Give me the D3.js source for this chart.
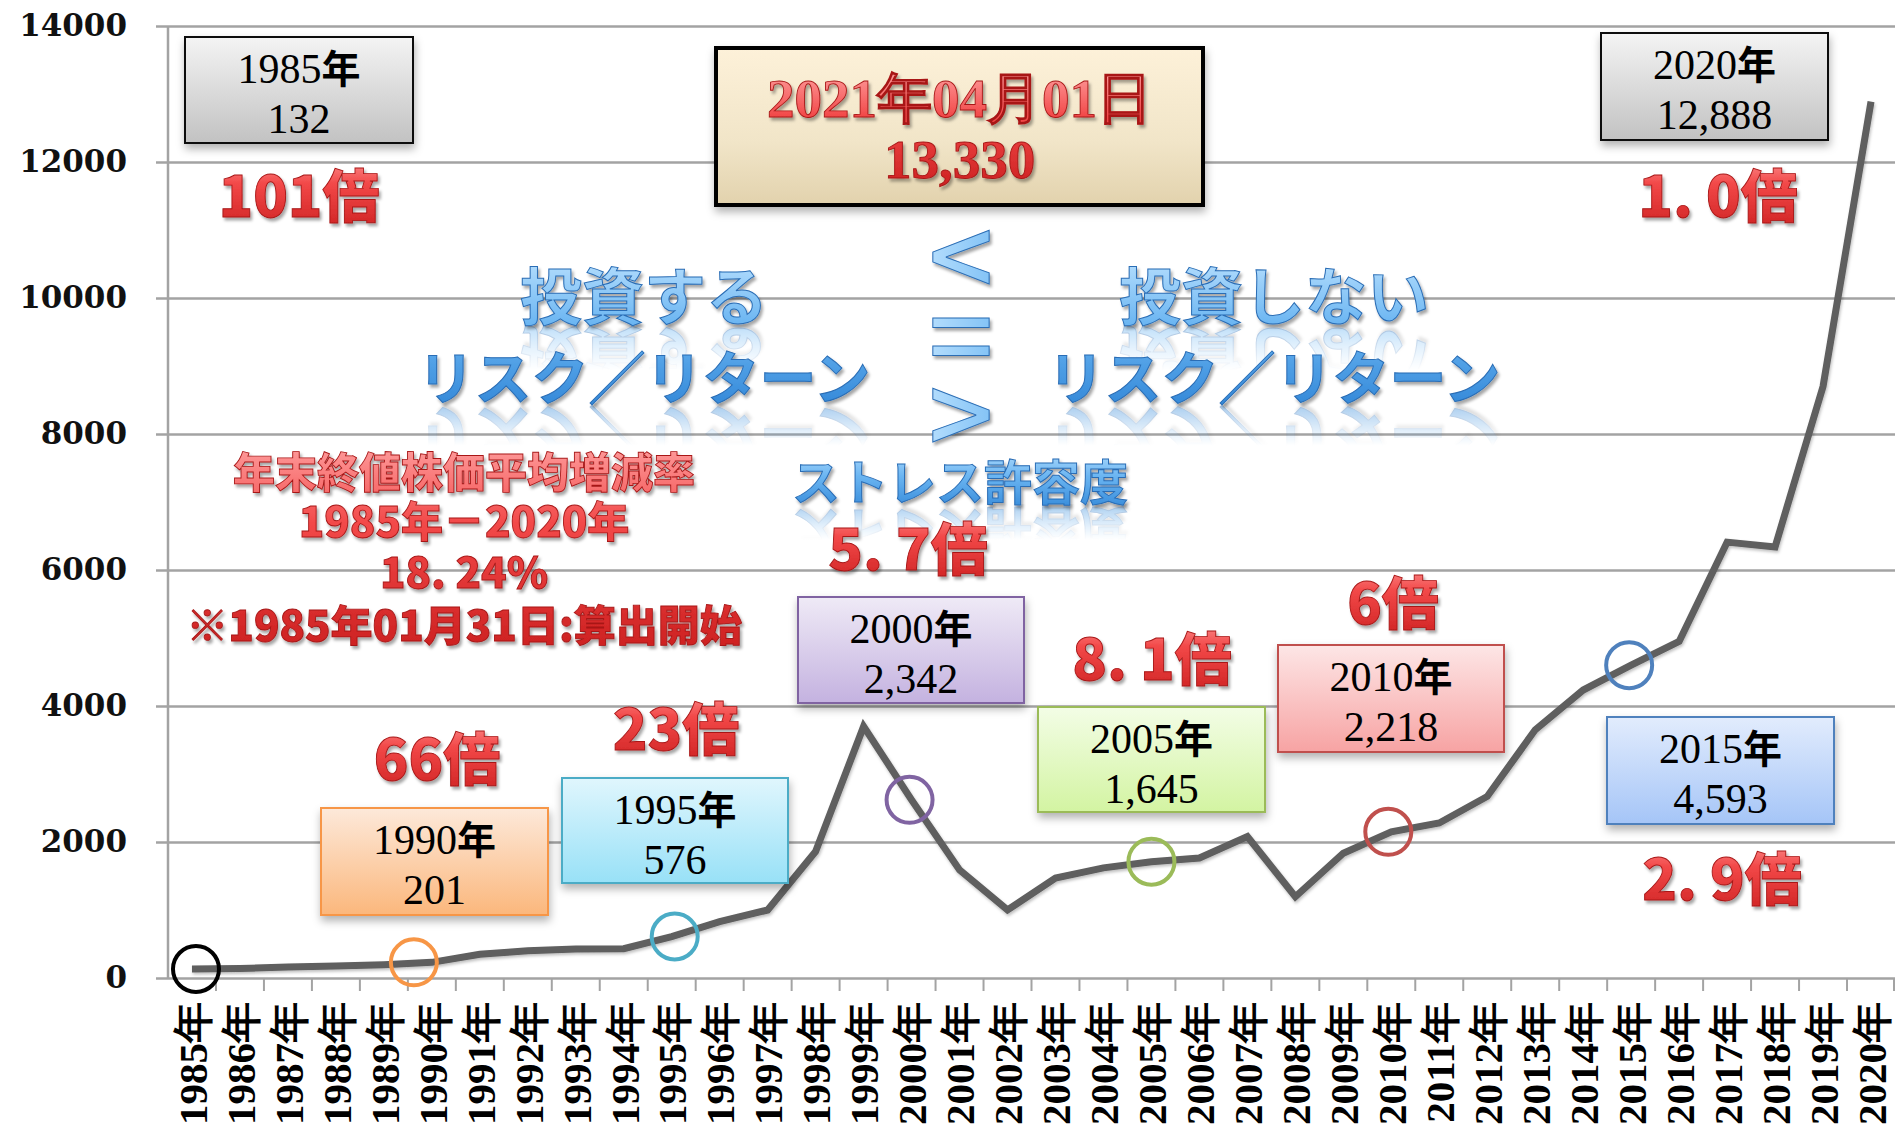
<!DOCTYPE html>
<html>
<head>
<meta charset="utf-8">
<script src="https://cdn.jsdelivr.net/npm/d3@7"></script>
<style>
  html, body { margin: 0; padding: 0; background: #fff; overflow: hidden; }
  svg { display: block; }
</style>
</head>
<body>
<div id="chart"></div>
<script>
// ---- data ----
const categories = [
  "1985年", "1986年", "1987年", "1988年", "1989年", "1990年", "1991年", "1992年", "1993年",
  "1994年", "1995年", "1996年", "1997年", "1998年", "1999年", "2000年", "2001年", "2002年",
  "2003年", "2004年", "2005年", "2006年", "2007年", "2008年", "2009年", "2010年", "2011年",
  "2012年", "2013年", "2014年", "2015年", "2016年", "2017年", "2018年", "2019年", "2020年"
];
const values = [
  132, 140, 160, 175, 195, 230, 350, 400, 425,
  430, 610, 830, 1000, 1860, 3700, 2620, 1590, 1000,
  1470, 1620, 1710, 1765, 2080, 1195, 1835, 2150, 2280,
  2670, 3650, 4235, 4600, 4950, 6410, 6340, 8700, 12888
];
const yTicks = [0, 2000, 4000, 6000, 8000, 10000, 12000, 14000];

// callout boxes
const calloutYears = ["1985年", "1990年", "1995年", "2000年", "2005年", "2010年", "2015年", "2020年"];
const calloutValues = ["132", "201", "576", "2,342", "1,645", "2,218", "4,593", "12,888"];
// circled points
const markedYears = ["1985年", "1990年", "1995年", "2000年", "2005年", "2010年", "2015年"];
// red multiplier labels
const multipliers = ["101倍", "66倍", "23倍", "5. 7倍", "8. 1倍", "6倍", "2. 9倍", "1. 0倍"];
const headlineLines = ["2021年04月01日", "13,330"];
const rateLines = ["年末終値株価平均増減率", "1985年－2020年", "18. 24%", "※1985年01月31日:算出開始"];
const investLines = ["投資する", "リスク／リターン"];
const noInvestLines = ["投資しない", "リスク／リターン"];
const compareMarks = "<=>";
const stressLabel = "ストレス許容度";

// ---- layout ----
const width = 1895, height = 1128;
const plot = { left: 168, right: 1895, top: 26, bottom: 978 };
const serif = "'Liberation Serif', 'Times New Roman', serif";
const gothic = "'Noto Sans CJK JP', 'Noto Sans', sans-serif";

const boxLayout = [
  { x: 185, y: 37, w: 228, h: 106, c0: "#f4f4f4", c1: "#c2c2c2", stroke: "#111" },
  { x: 321, y: 808, w: 227, h: 107, c0: "#fde9da", c1: "#fbb77c", stroke: "#f79646" },
  { x: 562, y: 778, w: 226, h: 105, c0: "#e0f6fd", c1: "#98e1f7", stroke: "#4bacc6" },
  { x: 798, y: 597, w: 226, h: 106, c0: "#efeaf6", c1: "#c4b2e0", stroke: "#8064a2" },
  { x: 1038, y: 707, w: 227, h: 105, c0: "#f3fde6", c1: "#d3f4a2", stroke: "#9bbb59" },
  { x: 1278, y: 645, w: 226, h: 107, c0: "#fde6e6", c1: "#f7a3a3", stroke: "#c0504d" },
  { x: 1607, y: 717, w: 227, h: 107, c0: "#e2ecfd", c1: "#a5c5f7", stroke: "#4f81bd" },
  { x: 1601, y: 33, w: 227, h: 107, c0: "#f4f4f4", c1: "#c2c2c2", stroke: "#111" }
];
const circleStyle = [
  { color: "#000000", dx: 4 },
  { color: "#f79646", dx: -18 },
  { color: "#4bacc6", dx: 3 },
  { color: "#8064a2", dx: -2 },
  { color: "#9bbb59", dx: 0 },
  { color: "#c0504d", dx: -3 },
  { color: "#4f81bd", dx: -2 }
];
const multiplierPos = [
  { x: 299, y: 217 }, { x: 437, y: 780 }, { x: 676, y: 750 }, { x: 908, y: 570 },
  { x: 1152, y: 680 }, { x: 1393, y: 624 }, { x: 1722, y: 900 }, { x: 1718, y: 217 }
];

const svg = d3.select("#chart").append("svg")
  .attr("width", width)
  .attr("height", height)
  .attr("viewBox", [0, 0, width, height]);

svg.append("rect").attr("width", width).attr("height", height).attr("fill", "#fff");

// defs: gradients + filters
const defs = svg.append("defs");

function vGradient(id, stops) {
  const g = defs.append("linearGradient").attr("id", id)
    .attr("x1", 0).attr("y1", 0).attr("x2", 0).attr("y2", 1);
  stops.forEach(s => g.append("stop").attr("offset", s[0]).attr("stop-color", s[1])
    .attr("stop-opacity", s[2] === undefined ? 1 : s[2]));
}
vGradient("redText", [["0%", "#ffa3a3"], ["40%", "#f24848"], ["100%", "#cc2020"]]);
vGradient("blueText", [["0%", "#c2e5ff"], ["45%", "#6cb6f2"], ["100%", "#2e84d6"]]);
vGradient("reflFade", [["0%", "#fff", 0.45], ["100%", "#fff", 0]]);
vGradient("headBox", [["0%", "#fdf1d9"], ["60%", "#f1e5c8"], ["100%", "#e2d2ad"]]);
boxLayout.forEach((b, i) => vGradient("box" + i, [["0%", b.c0], ["100%", b.c1]]));

const fText = defs.append("filter").attr("id", "txtShadow")
  .attr("x", "-10%").attr("y", "-20%").attr("width", "130%").attr("height", "160%");
fText.append("feDropShadow").attr("dx", 2).attr("dy", 3).attr("stdDeviation", 1.8)
  .attr("flood-color", "#000").attr("flood-opacity", 0.35);

const fBox = defs.append("filter").attr("id", "boxShadow")
  .attr("x", "-10%").attr("y", "-10%").attr("width", "130%").attr("height", "140%");
fBox.append("feDropShadow").attr("dx", 1).attr("dy", 5).attr("stdDeviation", 4)
  .attr("flood-color", "#000").attr("flood-opacity", 0.3);

const fLine = defs.append("filter").attr("id", "lineShadow")
  .attr("x", "-5%").attr("y", "-5%").attr("width", "110%").attr("height", "110%");
fLine.append("feDropShadow").attr("dx", 1).attr("dy", 2).attr("stdDeviation", 1.5)
  .attr("flood-color", "#000").attr("flood-opacity", 0.25);

// scales
const x = d3.scaleBand().domain(categories).range([plot.left, plot.right]).padding(0);
const y = d3.scaleLinear().domain([0, 14000]).range([plot.bottom, plot.top]);
const cx = c => x(c) + x.bandwidth() / 2;
const valueOf = c => values[categories.indexOf(c)];

// y axis with gridlines
const yAxis = svg.append("g")
  .attr("transform", "translate(156,0)")
  .call(d3.axisLeft(y).tickValues(yTicks).tickSize(-(plot.right - 156)).tickPadding(29)
    .tickFormat(d3.format("d")));
yAxis.select(".domain").remove();
yAxis.selectAll(".tick line").attr("stroke", "#a3a3a3").attr("stroke-width", 2.5);
yAxis.selectAll(".tick text")
  .attr("font-family", "'DejaVu Serif', serif")
  .attr("font-weight", "bold")
  .attr("font-size", 31)
  .attr("fill", "#111");

// vertical axis line
svg.append("line")
  .attr("x1", plot.left).attr("x2", plot.left)
  .attr("y1", plot.top).attr("y2", plot.bottom)
  .attr("stroke", "#a3a3a3").attr("stroke-width", 2.5);

// x axis: category ticks between bands
svg.append("g").selectAll("line")
  .data(categories.slice(1).concat(["end"]))
  .join("line")
  .attr("x1", d => d === "end" ? plot.right - 1 : x(d))
  .attr("x2", d => d === "end" ? plot.right - 1 : x(d))
  .attr("y1", plot.bottom).attr("y2", plot.bottom + 13)
  .attr("stroke", "#a3a3a3").attr("stroke-width", 2);

const xAxis = svg.append("g")
  .attr("transform", `translate(0,${plot.bottom})`)
  .call(d3.axisBottom(x).tickSize(0));
xAxis.select(".domain").remove();
xAxis.selectAll(".tick text")
  .attr("transform", "rotate(-90)")
  .attr("x", -24).attr("y", 0).attr("dy", "0.36em")
  .style("text-anchor", "end")
  .attr("font-family", serif)
  .attr("font-weight", "bold")
  .attr("font-size", 41)
  .attr("fill", "#000");

// line
const line = d3.line().x(d => cx(d)).y(d => y(valueOf(d)));
svg.append("path")
  .datum(categories)
  .attr("d", line)
  .attr("fill", "none")
  .attr("stroke", "#5e5e5e")
  .attr("stroke-width", 7)
  .attr("stroke-linejoin", "miter")
  .attr("filter", "url(#lineShadow)");

// circled points
svg.append("g").selectAll("circle")
  .data(markedYears)
  .join("circle")
  .attr("cx", (d, i) => cx(d) + circleStyle[i].dx)
  .attr("cy", d => y(valueOf(d)))
  .attr("r", 23)
  .attr("fill", "none")
  .attr("stroke", (d, i) => circleStyle[i].color)
  .attr("stroke-width", 4);

// red 3D text helper
function redText(sel) {
  return sel.attr("fill", "url(#redText)")
    .attr("stroke", "#a81818").attr("stroke-width", 0.9)
    .attr("filter", "url(#txtShadow)");
}

// multi-line text as one <text> with one tspan per line
function stackedText(parent, lines, centerX, baselines) {
  const t = parent.append("text").attr("text-anchor", "middle");
  t.selectAll("tspan").data(lines).join("tspan")
    .attr("x", centerX)
    .attr("y", (d, i) => baselines[i])
    .text(d => d);
  return t;
}

// blue text; the reflection reuses the same text node through <use>
let blueId = 0;
function blueText(lines, centerX, baselines, sizes) {
  const g = svg.append("g");
  const id = "blue" + (blueId++);
  const t = g.append("text").attr("id", id).attr("text-anchor", "middle")
    .attr("font-family", gothic).attr("font-weight", 700)
    .attr("fill", "url(#blueText)")
    .attr("stroke", "#2a6db5").attr("stroke-width", 1)
    .attr("filter", "url(#txtShadow)");
  t.selectAll("tspan").data(lines).join("tspan")
    .attr("x", centerX).attr("y", (d, i) => baselines[i])
    .attr("font-size", (d, i) => sizes[i])
    .text(d => d);
  lines.forEach((l, i) => {
    const b = baselines[i], s = sizes[i];
    const m = defs.append("mask").attr("id", id + "m" + i).attr("maskUnits", "userSpaceOnUse")
      .attr("x", 0).attr("y", 0).attr("width", width).attr("height", height);
    m.append("rect").attr("x", centerX - 400).attr("y", b + 4)
      .attr("width", 800).attr("height", s * 0.75).attr("fill", "url(#reflFade)");
    g.insert("g", ":first-child")
      .attr("mask", `url(#${id}m${i})`)
      .append("use")
      .attr("href", "#" + id)
      .attr("transform", `translate(0,${2 * (b + 6)}) scale(1,-1)`);
  });
}

blueText(investLines, 644, [320, 399], [62, 57]);
blueText(noInvestLines, 1274, [320, 399], [62, 57]);
blueText([stressLabel], 960, [500], [48]);

// < = > written top to bottom as one vertical text
svg.append("text")
  .attr("x", 961).attr("y", 318)
  .attr("text-anchor", "middle")
  .style("writing-mode", "vertical-rl")
  .style("text-orientation", "upright")
  .attr("font-family", gothic).attr("font-weight", 500).attr("font-size", 114)
  .attr("letter-spacing", -35)
  .attr("fill", "url(#blueText)")
  .attr("stroke", "#2a6db5").attr("stroke-width", 1)
  .attr("filter", "url(#txtShadow)")
  .text(compareMarks);

// callout boxes
const boxes = svg.append("g").selectAll("g")
  .data(calloutYears)
  .join("g");
boxes.append("rect")
  .attr("x", (d, i) => boxLayout[i].x)
  .attr("y", (d, i) => boxLayout[i].y)
  .attr("width", (d, i) => boxLayout[i].w)
  .attr("height", (d, i) => boxLayout[i].h)
  .attr("fill", (d, i) => `url(#box${i})`)
  .attr("stroke", (d, i) => boxLayout[i].stroke)
  .attr("stroke-width", 2)
  .attr("filter", "url(#boxShadow)");
boxes.each(function (d, i) {
  const b = boxLayout[i];
  const t = d3.select(this).append("text")
    .attr("text-anchor", "middle").attr("fill", "#000")
    .attr("font-family", serif).attr("font-size", 42);
  t.append("tspan").attr("x", b.x + b.w / 2).attr("y", b.y + 46).text(d.replace("年", ""));
  t.append("tspan").attr("font-family", gothic).attr("font-weight", 700).attr("font-size", 39).text("年");
  t.append("tspan").attr("x", b.x + b.w / 2).attr("y", b.y + 96).text(calloutValues[i]);
});

// headline box
const head = svg.append("g");
head.append("rect")
  .attr("x", 716).attr("y", 48).attr("width", 487).attr("height", 157)
  .attr("fill", "url(#headBox)")
  .attr("stroke", "#000").attr("stroke-width", 4)
  .attr("filter", "url(#boxShadow)");
stackedText(head, headlineLines, 959.5, [117, 178])
  .attr("font-family", serif).attr("font-weight", 700).attr("font-size", 55)
  .call(redText);

// red annual-rate block
stackedText(svg, rateLines, 464, [488, 537, 588, 641])
  .attr("font-family", gothic).attr("font-weight", 900).attr("font-size", 42)
  .call(redText);

// multiplier labels
svg.append("g").selectAll("text")
  .data(multipliers)
  .join("text")
  .attr("x", (d, i) => multiplierPos[i].x)
  .attr("y", (d, i) => multiplierPos[i].y)
  .attr("text-anchor", "middle")
  .attr("font-family", gothic).attr("font-weight", 900).attr("font-size", 57)
  .text(d => d)
  .call(redText);
</script>
</body>
</html>
